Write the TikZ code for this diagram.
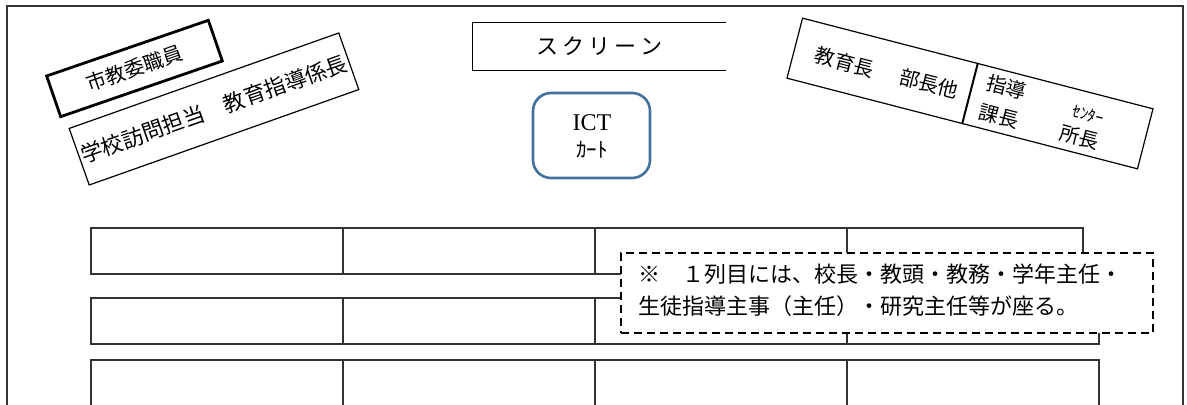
\documentclass[tikz,border=0pt]{standalone}
\usepackage{fontspec}
\setmainfont{Liberation Serif}
\newfontfamily\jp{Noto Sans CJK JP}
\begin{document}
\begin{tikzpicture}[x=0.5pt,y=-0.5pt,
  frame/.style={draw=black!80, line width=1pt},
  cell/.style={draw=black!80, line width=0.6pt},
  tiltbox/.style={draw=black, line width=0.6pt, inner sep=0pt, font=\jp\fontsize{10}{12}\selectfont},
  jptext/.style={inner sep=0pt, font=\jp\fontsize{10}{12}\selectfont},
  cart/.style={draw={rgb,255:red,65;green,113;blue,156}, line width=1.3pt, rounded corners=9pt,
               minimum width=58.5pt, minimum height=42.5pt, inner sep=0pt},
  note/.style={draw=black, line width=1pt, dash pattern=on 4pt off 2.5pt, fill=white,
               minimum width=266pt, minimum height=40pt, inner sep=0pt}
]
\useasboundingbox (0,0) rectangle (1187,405);

% outer frame
\draw[frame] (7,405) -- (7,6) -- (1183,6) -- (1183,405);

% seating rows
\draw[cell] (91,228) rectangle (1083,274);
\foreach \x in {343,595,847} \draw[cell] (\x,228) -- (\x,274);
\draw[cell] (91,298) rectangle (1099,344);
\foreach \x in {343,595,847} \draw[cell] (\x,298) -- (\x,344);
\draw[cell] (91,405) -- (91,360) -- (1099,360) -- (1099,405);
\foreach \x in {343,595,847} \draw[cell] (\x,360) -- (\x,405);

% note
\node[note] (note) at (887,293) {};
\node[anchor=west, inner sep=0pt, align=left, font=\jp\fontsize{11}{16}\selectfont] (notetext) at (638,290)
  {※　１列目には、校長・教頭・教務・学年主任・\\生徒指導主事（主任）・研究主任等が座る。};

% screen
\node[minimum width=126.5pt, minimum height=23.5pt, inner sep=0pt, font=\jp\fontsize{11}{13}\selectfont] (screen) at (599.5,46.5)
  {ス\kern2ptク\kern2ptリ\kern2ptー\kern2ptン};
\draw[line width=0.6pt] (screen.north east) -- (screen.north west) -- (screen.south west) -- (screen.south east);

% ICT cart
\node[cart] (cart) at (591.5,135.5) {};
\node[inner sep=0pt, font=\fontsize{12}{14}\selectfont] (ict) at (592,123) {ICT};
\node[jptext, font=\jp\fontsize{10.5}{12}\selectfont] (kart) at (592,150) {ｶｰﾄ};

% left tilted boxes
\node[tiltbox, line width=1.4pt, minimum width=85.5pt, minimum height=21.5pt, rotate=19] (shikyoi) at (134.5,68.5) {市教委職員};
\node[tiltbox, minimum width=143pt, minimum height=30pt, rotate=19.5, font=\jp\fontsize{10.8}{12}\selectfont] (houmon) at (214,109) {学校訪問担当　教育指導係長};

% right tilted box
\node[tiltbox, minimum width=181pt, minimum height=31pt, rotate=-14.5] (kyoiku) at (970,93.5) {};
\draw[line width=1pt] (kyoiku.north) -- (kyoiku.south);
\begin{scope}[shift={(970,93.5)}, rotate=-14.5, transform shape]
  \node[jptext] (kyoikucho) at (-129,1) {教育長};
  \node[jptext] (bucho) at (-42,1) {部長他};
  \node[jptext, align=center, font=\jp\fontsize{10}{15}\selectfont] (shidou) at (34,0) {指導\\課長};
  \node[jptext, font=\jp\fontsize{8}{9}\selectfont] (center) at (120,-9) {ｾﾝﾀｰ};
  \node[jptext] (shocho) at (117,15) {所長};
\end{scope}
\end{tikzpicture}
\end{document}
